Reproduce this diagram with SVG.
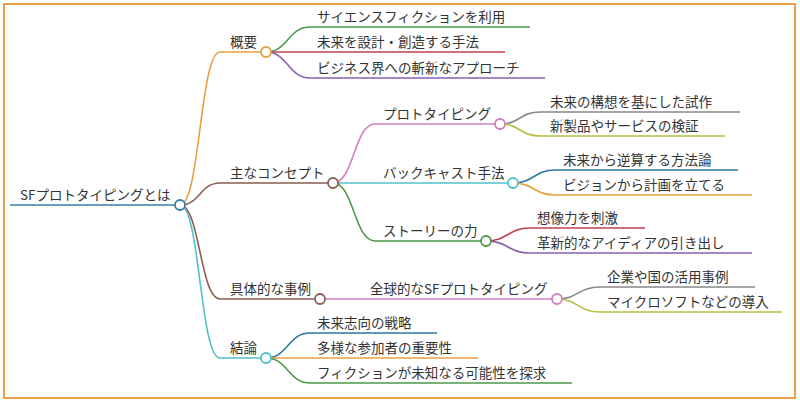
<svg xmlns="http://www.w3.org/2000/svg" width="800" height="403" viewBox="0 0 800 403">
<style>
text{font-family:"Noto Sans CJK JP","Noto Sans",sans-serif;font-size:13.5px;fill:#333}
path{fill:none;stroke-width:1.6}
circle{fill:#fff;stroke-width:1.8}
</style>
<rect x="4" y="4" width="791" height="394" fill="#fff" stroke="#e8a048" stroke-width="2"/>
<g id="connectors">
<path d="M10 205 H180" stroke="#3a7ea8"/>
<path d="M180 205 C200 205 200 52 220 52 H266" stroke="#e8a040"/>
<path d="M180 205 C200 205 200 183 220 183 H333" stroke="#8b5e52"/>
<path d="M180 205 C200 205 200 299 220 299 H320" stroke="#8b5e52"/>
<path d="M180 205 C200 205 200 358 220 358 H266" stroke="#4fc0cc"/>
<path d="M266 52 C288 52 288 27 310 27 H530" stroke="#4a9a48"/>
<path d="M266 52 H505" stroke="#c04050"/>
<path d="M266 52 C288 52 288 78 310 78 H545" stroke="#8a60b0"/>
<path d="M333 183 C354 183 354 124 375 124 H500" stroke="#d080c0"/>
<path d="M333 183 H513" stroke="#4fc0cc"/>
<path d="M333 183 C354 183 354 241 375 241 H486" stroke="#4a9a48"/>
<path d="M500 124 C520 124 520 112 540 112 H740" stroke="#888"/>
<path d="M500 124 C520 124 520 136 540 136 H725" stroke="#b8c040"/>
<path d="M513 183 C534 183 534 170 555 170 H738" stroke="#2a78a0"/>
<path d="M513 183 C534 183 534 195 555 195 H752" stroke="#e8a040"/>
<path d="M486 241 C508 241 508 228 530 228 H645" stroke="#c04050"/>
<path d="M486 241 C508 241 508 253 530 253 H752" stroke="#8a60b0"/>
<path d="M320 299 H557" stroke="#d080c0"/>
<path d="M557 299 C578 299 578 287 600 287 H755" stroke="#888"/>
<path d="M557 299 C578 299 578 312 600 312 H782" stroke="#b8c040"/>
<path d="M266 358 C288 358 288 333 310 333 H437" stroke="#2a78a0"/>
<path d="M266 358 H478" stroke="#e8a040"/>
<path d="M266 358 C288 358 288 383 310 383 H572" stroke="#4a9a48"/>
</g>
<g id="root"><text x="20" y="200">SFプロトタイピングとは</text><circle cx="180" cy="205" r="5" stroke="#3a7ea8"/></g>
<g id="n1"><text x="230" y="47">概要</text><circle cx="266" cy="52" r="5" stroke="#e8a040"/></g>
<g id="n2"><text x="230" y="178">主なコンセプト</text><circle cx="333" cy="183" r="5" stroke="#8b5e52"/></g>
<g id="n3"><text x="230" y="294">具体的な事例</text><circle cx="320" cy="299" r="5" stroke="#8b5e52"/></g>
<g id="n4"><text x="230" y="353">結論</text><circle cx="266" cy="358" r="5" stroke="#4fc0cc"/></g>
<g id="n11"><text x="317" y="22">サイエンスフィクションを利用</text></g>
<g id="n12"><text x="317" y="47">未来を設計・創造する手法</text></g>
<g id="n13"><text x="317" y="73">ビジネス界への斬新なアプローチ</text></g>
<g id="n21"><text x="383" y="119">プロトタイピング</text><circle cx="500" cy="124" r="5" stroke="#d080c0"/></g>
<g id="n22"><text x="383" y="178">バックキャスト手法</text><circle cx="513" cy="183" r="5" stroke="#4fc0cc"/></g>
<g id="n23"><text x="383" y="236">ストーリーの力</text><circle cx="486" cy="241" r="5" stroke="#4a9a48"/></g>
<g id="n211"><text x="550" y="107">未来の構想を基にした試作</text></g>
<g id="n212"><text x="550" y="131">新製品やサービスの検証</text></g>
<g id="n221"><text x="563" y="165">未来から逆算する方法論</text></g>
<g id="n222"><text x="563" y="190">ビジョンから計画を立てる</text></g>
<g id="n231"><text x="537" y="223">想像力を刺激</text></g>
<g id="n232"><text x="537" y="248">革新的なアイディアの引き出し</text></g>
<g id="n31"><text x="370" y="294">全球的なSFプロトタイピング</text><circle cx="557" cy="299" r="5" stroke="#d080c0"/></g>
<g id="n311"><text x="607" y="282">企業や国の活用事例</text></g>
<g id="n312"><text x="607" y="307">マイクロソフトなどの導入</text></g>
<g id="n41"><text x="317" y="328">未来志向の戦略</text></g>
<g id="n42"><text x="317" y="353">多様な参加者の重要性</text></g>
<g id="n43"><text x="317" y="378">フィクションが未知なる可能性を探求</text></g>
</svg>
